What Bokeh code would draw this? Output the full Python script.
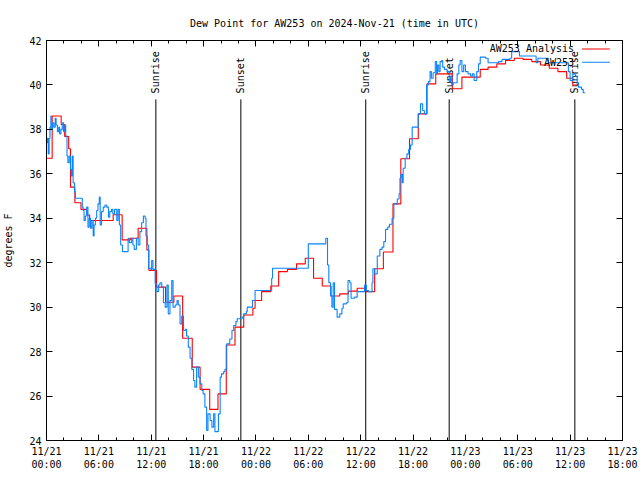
import numpy as np
from bokeh.plotting import figure
from bokeh.models import FixedTicker, LinearAxis, Range1d
from bokeh.embed import file_html
from bokeh.resources import INLINE
from bokeh.core.properties import value

title_text = "Dew Point for AW253 on 2024-Nov-21 (time in UTC)"
y_label = "degrees F"

x_ticks = [0, 6, 12, 18, 24, 30, 36, 42, 48, 54, 60, 66]
x_tick_labels = ["11/21\n00:00", "11/21\n06:00", "11/21\n12:00", "11/21\n18:00",
                 "11/22\n00:00", "11/22\n06:00", "11/22\n12:00", "11/22\n18:00",
                 "11/23\n00:00", "11/23\n06:00", "11/23\n12:00", "11/23\n18:00"]
x_minor = list(range(0, 67, 2))
y_ticks = [24, 26, 28, 30, 32, 34, 36, 38, 40, 42]

# hours since 2024-11-21 00:00 UTC
obs_hours = [0.05, 0.1, 0.2, 0.3, 0.4, 0.5, 0.55, 0.7, 0.85, 1.0, 1.1, 1.25, 1.4, 1.5, 1.65, 1.8, 1.95,
             2.1, 2.2, 2.35, 2.45, 2.6, 2.75, 2.85, 2.95, 3.05, 3.2, 3.3, 4.1, 4.2, 4.3, 4.45, 4.6,
             4.75, 4.9, 5.05, 5.2, 5.35, 5.45, 5.6, 5.75, 5.9, 6.05, 6.15, 6.3, 6.5, 6.7, 6.9, 7.1,
             7.25, 7.45, 7.6, 7.8, 8.05, 8.2, 8.35, 8.5, 8.7, 9.35, 9.5, 9.75, 9.9, 10.05, 10.3,
             10.5, 10.7, 10.9, 11.1, 11.3, 11.4, 11.55, 11.7, 11.95, 12.05, 12.2, 12.45, 12.65,
             12.85, 13.0, 13.2, 13.4, 13.6, 13.8, 13.95, 14.15, 14.35, 14.5, 14.75, 14.95, 15.1,
             15.3, 15.5, 15.7, 15.9, 16.05, 16.25, 16.45, 16.65, 16.85, 17.0, 17.2, 17.4, 17.6,
             17.8, 17.95, 18.15, 18.35, 18.5, 18.75, 18.95, 19.15, 19.3, 19.7, 19.9, 20.05, 20.3,
             20.45, 20.65, 21.0, 21.25, 21.45, 21.7, 21.85, 22.4, 22.6, 22.9, 23.0, 23.6, 23.9,
             25.8, 25.9, 30.0, 32.0, 32.2, 32.35, 32.55, 32.7, 32.85, 33.0, 33.3, 33.6, 33.85,
             34.0, 34.35, 34.55, 34.75, 34.9, 35.3, 35.6, 36.45, 36.65, 36.9, 37.3, 37.4, 37.6,
             37.9, 38.2, 38.45, 38.65, 38.85, 39.1, 39.3, 39.6, 39.8, 40.2, 40.4, 40.5, 40.6,
             40.75, 40.87, 41.1, 41.3, 41.5, 41.7, 41.9, 42.6, 42.85, 43.1, 43.3, 43.55, 43.75,
             43.95, 44.1, 44.3, 44.55, 44.7, 44.8, 44.95, 45.1, 45.3, 45.4, 45.6, 45.9, 46.15,
             46.3, 46.45, 46.6, 47.05, 47.25, 47.4, 47.6, 47.8, 48.0, 48.3, 48.6, 48.8, 49.0,
             49.3, 49.5, 49.7, 50.3, 50.6, 51.8, 52.2, 53.1, 53.3, 54.2, 56.1, 56.3, 57.5, 59.8,
             60.0, 60.3, 60.6, 60.8, 60.95, 61.3, 61.5, 61.7]
obs_dewpt = [37.4, 37.6, 36.9, 37.6, 38.1, 38.6, 38.0, 38.3, 38.1, 38.5, 38.2, 37.9, 38.1, 37.8, 38.0, 38.3, 37.9,
             38.2, 37.7, 36.8, 36.5, 36.8, 36.2, 35.9, 36.8, 35.6, 35.2, 34.9, 34.5, 34.35, 33.9, 34.1, 34.5,
             33.6, 34.0, 33.55, 33.9, 33.2, 33.7, 34.0, 34.35, 34.65, 34.95, 33.7, 34.3, 34.5, 34.6, 34.5, 34.05,
             34.3, 34.4, 34.2, 34.4, 33.9, 34.4, 33.7, 32.8, 32.5, 33.1, 32.9, 33.1, 32.8, 32.6, 33.1,
             32.8, 33.4, 33.8, 34.1, 34.0, 33.2, 32.8, 31.75, 31.7, 32.1, 31.7, 31.05, 30.7,
             31.0, 31.1, 30.9, 30.2, 30.0, 31.0, 29.7, 30.3, 31.2, 30.0, 30.1, 30.3, 30.1,
             29.25, 29.6, 28.95, 29.0, 28.7, 28.2, 27.7, 27.2, 26.7, 26.4, 27.3, 26.85, 26.55,
             26.25, 26.1, 25.5, 24.45, 25.2, 24.9, 24.6, 25.2, 24.4, 25.2, 26.85, 27.0, 27.1,
             27.2, 28.35, 28.57, 28.95, 29.17, 29.35, 29.48, 29.55, 29.7, 29.8, 30.0, 30.3, 30.75,
             31.3, 31.75, 32.85, 33.1, 31.9, 31.1, 30.5, 30.0, 31.1, 29.9, 29.55, 29.7, 29.95,
             30.15, 30.2, 31.2, 31.1, 30.4, 30.45, 30.7, 31.0, 30.75, 30.7, 31.1, 31.73, 31.5,
             32.3, 32.6, 32.7, 32.95, 33.5, 33.6, 33.73, 34.0, 34.65, 34.87, 35.1, 35.8, 35.98,
             35.6, 36.25, 36.7, 36.9, 37.1, 37.3, 38.1, 38.7, 39.15, 38.85, 38.7, 40.0, 40.15,
             40.6, 40.3, 40.55, 41.05, 40.5, 40.9, 40.6, 41.05, 41.1, 40.8, 40.7, 40.6, 40.15,
             40.4, 40.0, 40.1, 40.5, 40.9, 41.1, 40.6, 40.9, 40.6, 40.5, 40.4, 40.5, 40.2,
             40.6, 40.95, 41.25, 41.2, 41.0, 41.05, 41.15, 41.2, 41.5, 41.3, 41.0, 41.2, 41.0, 40.6,
             40.2, 40.5, 40.4, 40.1, 39.9, 39.8, 39.65, 39.65]

ana_hours = [0.0, 0.65, 1.68, 2.08, 2.54, 2.75, 3.25, 3.95, 4.65, 4.95, 7.64, 8.67, 9.6, 10.5,
             11.5, 11.73, 12.6, 13.64, 14.6, 15.6, 16.7, 17.6, 18.7, 19.65, 20.6, 21.6, 22.6,
             23.65, 23.9, 24.65, 25.7, 26.6, 27.6, 28.65, 29.65, 30.6, 31.6, 32.6, 33.6, 34.6,
             35.6, 36.6, 37.6, 38.6, 39.7, 40.6, 41.6, 42.6, 43.6, 44.6, 46.5, 47.6, 49.7, 50.6,
             51.6, 52.6, 53.6, 54.6, 55.6, 56.6, 57.6, 58.6, 59.6, 60.3, 61.0]
ana_dewpt = [36.7, 38.6, 38.22, 37.68, 37.13, 35.4, 34.7, 34.4, 34.15, 33.9, 34.16, 33.03, 33.1, 33.55,
             32.58, 31.65, 30.9, 30.22, 30.5, 28.6, 27.3, 26.3, 25.4, 26.1, 28.3, 29.1, 29.65,
             29.95, 30.3, 30.7, 30.95, 31.6, 31.7, 31.95, 32.2, 31.3, 30.95, 30.5, 30.6, 30.72,
             30.85, 30.7, 31.73, 32.48, 34.65, 36.68, 37.58, 38.7, 40.05, 40.5, 39.83, 40.35, 40.7, 40.8,
             40.95, 41.1, 41.2, 41.15, 41.05, 40.9, 40.75, 40.6, 40.3, 40.0, 40.0]

sun_hours = [12.53, 22.27, 36.58, 46.14, 60.54]
sun_labels = ["Sunrise", "Sunset", "Sunrise", "Sunset", "Sunrise"]

series_names = ["AW253 Analysis", "AW253"]
RED = "#ff0000"
BLUE = "#0a84ff"
FONT = "DejaVu Sans Mono"
FS = "10px"

p = figure(width=640, height=480, output_backend="svg", toolbar_location=None,
           x_range=Range1d(0, 66), y_range=Range1d(24, 42),
           min_border_left=46, min_border_right=18, min_border_top=40, min_border_bottom=40)
p.title.text = title_text
p.title.text_font = FONT
p.title.text_font_size = FS
p.title.text_font_style = "normal"
p.title.text_color = "black"
p.title.align = "center"
p.title.standoff = 24
p.xgrid.visible = False
p.ygrid.visible = False
p.outline_line_color = "black"
p.outline_line_width = 1
p.background_fill_color = "white"
p.border_fill_color = "white"

def style_axis(ax):
    ax.major_tick_in = 6
    ax.major_tick_out = 0
    ax.minor_tick_in = 3
    ax.minor_tick_out = 0
    ax.axis_line_color = "black"
    ax.major_tick_line_color = "black"
    ax.minor_tick_line_color = "black"
    ax.major_label_text_font = FONT
    ax.major_label_text_font_size = FS
    ax.major_label_text_color = "black"
    ax.major_label_standoff = 5

xt = FixedTicker(ticks=x_ticks, minor_ticks=x_minor)
yt = FixedTicker(ticks=y_ticks, minor_ticks=[])
p.xaxis.ticker = xt
p.xaxis.major_label_overrides = {t: l for t, l in zip(x_ticks, x_tick_labels)}
p.yaxis.ticker = yt
style_axis(p.xaxis[0])
style_axis(p.yaxis[0])
p.yaxis.axis_label = y_label
p.yaxis.axis_label_text_font = FONT
p.yaxis.axis_label_text_font_size = FS
p.yaxis.axis_label_text_font_style = "normal"
p.yaxis.axis_label_text_color = "black"
p.yaxis.axis_label_standoff = 12

# mirrored ticks on top and right, without labels
top_ax = LinearAxis(ticker=FixedTicker(ticks=x_ticks, minor_ticks=x_minor))
style_axis(top_ax)
top_ax.major_label_overrides = {t: "" for t in x_ticks}
top_ax.major_label_standoff = 0
p.add_layout(top_ax, "above")
right_ax = LinearAxis(ticker=FixedTicker(ticks=y_ticks, minor_ticks=[]))
style_axis(right_ax)
right_ax.major_label_overrides = {t: "" for t in y_ticks}
right_ax.major_label_standoff = 0
p.add_layout(right_ax, "right")

# sunrise / sunset markers
p.segment(x0=sun_hours, y0=[24] * len(sun_hours), x1=sun_hours, y1=[39.35] * len(sun_hours),
          line_color="black", line_width=1)
p.text(x=sun_hours, y=[39.62] * len(sun_hours), text=sun_labels, angle=np.pi / 2,
       text_align="left", text_baseline="middle", text_font=value(FONT),
       text_font_size=FS, text_color="black")

p.step(ana_hours, ana_dewpt, mode="after", line_color=RED, line_width=1.1)
p.step(obs_hours, obs_dewpt, mode="after", line_color=BLUE, line_width=1.1)

# gnuplot-style key (text left of sample line)
p.text(x=[60.45, 60.45], y=[41.62, 41.02], text=series_names, text_align="right",
       text_baseline="middle", text_font=value(FONT), text_font_size=FS, text_color="black")
p.line([61.35, 64.55], [41.62, 41.62], line_color=RED, line_width=1.1)
p.line([61.35, 64.55], [41.02, 41.02], line_color=BLUE, line_width=1.1)

open("out.html", "w").write(file_html(p, INLINE))
